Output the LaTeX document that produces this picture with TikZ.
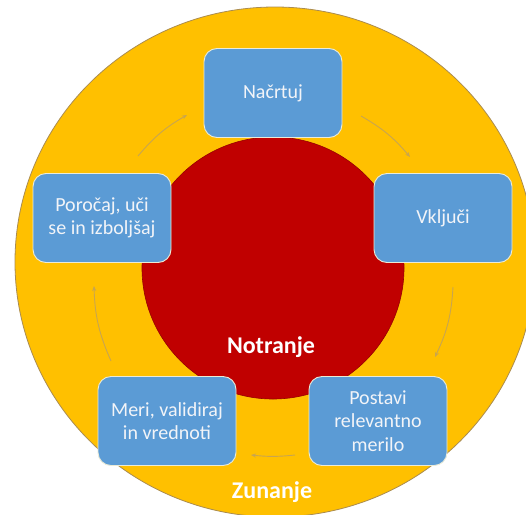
\documentclass[tikz,border=0pt]{standalone}
\usepackage{fontspec}
\usetikzlibrary{arrows.meta,shapes.geometric}
\setmainfont{Carlito}
\definecolor{gold}{RGB}{255,192,0}
\definecolor{goldedge}{RGB}{170,140,80}
\definecolor{darkred}{RGB}{192,0,0}
\definecolor{redge}{RGB}{150,0,0}
\definecolor{boxblue}{RGB}{91,155,213}
\definecolor{boxedge}{RGB}{235,235,215}
\definecolor{arrowc}{RGB}{200,165,80}
\definecolor{txt}{RGB}{242,244,248}
\begin{document}
\begin{tikzpicture}[x=1pt,y=-1pt,
  stepbox/.style={rectangle, rounded corners=13pt, fill=boxblue, draw=boxedge, line width=0.9pt,
    minimum width=138pt, minimum height=89pt, align=center, text=txt,
    font=\fontsize{20}{23.5}\selectfont, inner sep=2pt},
  ringlabel/.style={text=white, font=\fontsize{24}{28}\selectfont\bfseries},
  arr/.style={draw=arrowc, line width=0.9pt, -{Stealth[length=5pt,width=4pt]}}]
\useasboundingbox (0,0) rectangle (526,514);
\clip (0,0) rectangle (526,514);
\fill[white] (0,0) rectangle (526,514);
% outer disc
\node[ellipse, fill=gold, draw=goldedge, line width=0.8pt, minimum width=520pt, minimum height=510pt, inner sep=0pt] (outer) at (275,262) {};
% inner circle
\node[circle, fill=darkred, draw=redge, line width=0.6pt, minimum size=262pt, inner sep=0pt] (inner) at (273,268) {};
% labels
\node[ringlabel] (notranje) at (271,347) {Notranje};
\node[ringlabel] (zunanje) at (272,492) {Zunanje};
% boxes
\node[stepbox] (b1) at (273,93) {Načrtuj};
\node[stepbox] (b2) at (443,218) {Vključi};
\node[stepbox] (b3) at (378,421) {Postavi\\relevantno\\merilo};
\node[stepbox] (b4) at (167,421) {Meri, validiraj\\in vrednoti};
\node[stepbox] (b5) at (102,218) {Poročaj, uči\\se in izboljšaj};
% arrow end points
\coordinate (a1s) at (361,116); \coordinate (a1e) at (410,157);
\coordinate (a2s) at (453,287); \coordinate (a2e) at (435,357);
\coordinate (a3s) at (295,455); \coordinate (a3e) at (251,455);
\coordinate (a4s) at (111,361); \coordinate (a4e) at (94,286);
\coordinate (a5s) at (138,156); \coordinate (a5e) at (187,115);
\draw[arr] (a1s) to[bend left=10] (a1e);
\draw[arr] (a2s) to[bend left=11] (a2e);
\draw[arr] (a3s) to[bend left=6] (a3e);
\draw[arr] (a4s) to[bend left=11] (a4e);
\draw[arr] (a5s) to[bend left=10] (a5e);
\end{tikzpicture}
\end{document}
